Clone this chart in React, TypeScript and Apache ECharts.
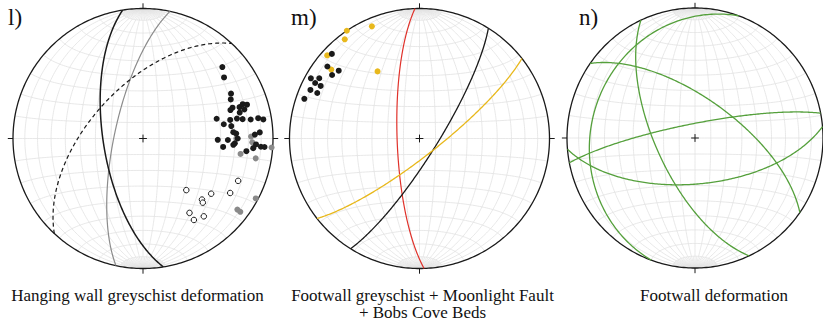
import React, { useEffect, useRef } from "react";
import * as echarts from "echarts";

// ---------- text ----------
const panelLabels = ["l)", "m)", "n)"];
const captionLines = [
  ["Hanging wall greyschist deformation"],
  ["Footwall greyschist + Moonlight Fault", "+ Bobs Cove Beds"],
  ["Footwall deformation"],
];

// ---------- panel l : planes [strike (RHR), dip], poles [trend, plunge] ----------
const lBlackPlane = [171, 65];
const lGreyPlane = [192, 72];
const lDashedPlane = [223, 57];
const lBlackPoles = [
  [48, 19], [53, 23], [63, 25], [66, 27], [71, 28], [72, 30], [72, 23], [71, 20],
  [72, 17], [74, 20], [75, 24], [75, 41], [78, 32], [78, 27], [79, 23], [80, 17],
  [80, 11], [81, 7], [80, 37], [82, 32], [91, 42], [91, 35], [87, 29], [90, 28],
  [93, 30], [94, 31], [96, 38], [88, 15], [87, 11], [93, 14], [94, 10], [94, 7],
  [97, 21], [95, 16], [86, 31],
];
const lGreyPoles = [
  [89, 18], [92, 17], [99, 25], [94, 1], [100, 13], [118, 2], [127, 10], [127, 7], [90, 29],
];
const lOpenPoles = [
  [114, 21], [122, 22], [129, 33], [140, 47], [136, 35], [137, 33], [148, 33], [142, 25], [148, 27],
];

// ---------- panel m ----------
const mRedPlane = [178, 76];
const mBlackPlane = [32, 79];
const mYellowPlane = [52, 79];
const mBlackPoles = [
  [314, 7], [308, 11], [310, 20], [306, 18], [299, 5], [301, 11], [298, 10], [298, 15],
  [294, 9], [294, 15], [289, 7],
];
const mYellowPoles = [[337, 7], [326, 0], [323, 5], [312, 5], [308, 15], [328, 39]];

// ---------- panel n ----------
const nGreenPlanes = [[155, 65], [305, 65], [259, 81], [85, 61], [200, 20]];

// ---------- layout ----------
const R = 130;
const PANELS = [
  { cx: 143, cy: 138.5 },
  { cx: 419.5, cy: 138.5 },
  { cx: 697, cy: 138 },
];
const CAPTION_POS = [
  [{ x: 137.5, y: 295 }],
  [{ x: 422.5, y: 295 }, { x: 422.5, y: 312.5 }],
  [{ x: 714, y: 295 }],
];
const LABEL_POS = [{ x: 8, y: 17.5 }, { x: 291, y: 17.5 }, { x: 579, y: 17.5 }];

const BLACK = "#1a1a1a";
const GRID = "#e2e2e2";
const GREEN = "#55a03c";
const RED = "#e0322b";
const YELLOW = "#e8b81c";
const GREY = "#8a8a8a";
const SERIF = "'Liberation Serif', 'Times New Roman', serif";

// ---------- equal-area (Schmidt) lower-hemisphere projection ----------
const D2R = Math.PI / 180;
function project(x: number, y: number, z: number): number[] {
  const k = 1 / Math.sqrt(1 + Math.max(z, 0));
  return [x * k, y * k];
}
function vec(trend: number, plunge: number): number[] {
  const t = trend * D2R, p = plunge * D2R;
  return [Math.sin(t) * Math.cos(p), Math.cos(t) * Math.cos(p), Math.sin(p)];
}
function greatCircle(strike: number, dip: number, t0 = 0, t1 = 180, step = 1): number[][] {
  const S = vec(strike, 0);
  const Dv = vec(strike + 90, dip);
  const pts: number[][] = [];
  for (let t = t0; t <= t1 + 1e-9; t += step) {
    const c = Math.cos(t * D2R), s = Math.sin(t * D2R);
    pts.push(project(c * S[0] + s * Dv[0], c * S[1] + s * Dv[1], c * S[2] + s * Dv[2]));
  }
  return pts;
}
function smallCircleNS(alpha: number, sign: number): number[][] {
  const a = alpha * D2R;
  const pts: number[][] = [];
  for (let f = 0; f <= 180; f += 2) {
    const ph = f * D2R;
    pts.push(project(Math.sin(a) * Math.cos(ph), sign * Math.cos(a), Math.sin(a) * Math.sin(ph)));
  }
  return pts;
}
function poleXY(trend: number, plunge: number): number[] {
  const v = vec(trend, plunge);
  return project(v[0], v[1], v[2]);
}

function netLines(): number[][][] {
  const out: number[][][] = [];
  for (let d = 10; d <= 80; d += 10) {
    out.push(greatCircle(0, d));
    out.push(greatCircle(180, d));
  }
  out.push(greatCircle(0, 90));
  for (let d = 5; d < 90; d += 10) {
    for (const s of [0, 180]) {
      out.push(greatCircle(s, d, 0, 10, 1));
      out.push(greatCircle(s, d, 170, 180, 1));
    }
  }
  for (let a = 10; a <= 80; a += 10) {
    out.push(smallCircleNS(a, 1));
    out.push(smallCircleNS(a, -1));
  }
  out.push(smallCircleNS(90, 1));
  return out;
}

function primitive(): number[][] {
  const pts: number[][] = [];
  for (let a = 0; a <= 360; a += 1) pts.push([Math.sin(a * D2R), Math.cos(a * D2R)]);
  return pts;
}

function ticksAndCross(): number[][][] {
  const o = 1.0, e = 1.04, c = 0.03;
  return [
    [[0, o], [0, e]], [[0, -o], [0, -e]], [[o, 0], [e, 0]], [[-o, 0], [-e, 0]],
    [[-c, 0], [c, 0]], [[0, -c], [0, c]],
  ];
}

function buildOption() {
  const grid = PANELS.map((p) => ({
    left: p.cx - R, top: p.cy - R, width: 2 * R, height: 2 * R,
  }));
  const xAxis = PANELS.map((_, i) => ({
    type: "value", gridIndex: i, min: -1, max: 1, show: false,
  }));
  const yAxis = PANELS.map((_, i) => ({
    type: "value", gridIndex: i, min: -1, max: 1, show: false,
  }));

  const series: any[] = [];
  const net = netLines();
  const linesSeries = (i: number, polys: number[][][], color: string, width: number, type: any = "solid", z = 3) => ({
    type: "lines",
    coordinateSystem: "cartesian2d",
    xAxisIndex: i,
    yAxisIndex: i,
    polyline: true,
    silent: true,
    clip: false,
    z,
    lineStyle: { color, width, type, opacity: 1 },
    data: polys.map((coords) => ({ coords })),
  });
  const scatter = (i: number, poles: number[][], color: string, border: string | null, size: number, z = 5) => ({
    type: "scatter",
    xAxisIndex: i,
    yAxisIndex: i,
    silent: true,
    clip: false,
    z,
    symbol: "circle",
    symbolSize: size,
    itemStyle: border
      ? { color, borderColor: border, borderWidth: 1, opacity: 1 }
      : { color, opacity: 1 },
    data: poles.map(([t, p]) => poleXY(t, p)),
  });

  PANELS.forEach((_, i) => {
    series.push(linesSeries(i, net, GRID, 0.8, "solid", 1));
    series.push(linesSeries(i, [primitive()], BLACK, 1.3, "solid", 2));
    series.push(linesSeries(i, ticksAndCross(), BLACK, 1, "solid", 2));
  });

  // panel l
  series.push(linesSeries(0, [greatCircle(lGreyPlane[0], lGreyPlane[1])], "#8c8c8c", 1.2));
  series.push(linesSeries(0, [greatCircle(lBlackPlane[0], lBlackPlane[1])], BLACK, 1.5));
  series.push(linesSeries(0, [greatCircle(lDashedPlane[0], lDashedPlane[1])], BLACK, 1.2, [4, 3]));
  series.push(scatter(0, lGreyPoles, GREY, null, 6, 5));
  series.push(scatter(0, lBlackPoles, BLACK, null, 6, 6));
  series.push(scatter(0, lOpenPoles, "#ffffff", BLACK, 5.5, 6));

  // panel m
  series.push(linesSeries(1, [greatCircle(mRedPlane[0], mRedPlane[1])], RED, 1.2));
  series.push(linesSeries(1, [greatCircle(mBlackPlane[0], mBlackPlane[1])], BLACK, 1.3));
  series.push(linesSeries(1, [greatCircle(mYellowPlane[0], mYellowPlane[1])], YELLOW, 1.3));
  series.push(scatter(1, mYellowPoles, YELLOW, null, 6, 5));
  series.push(scatter(1, mBlackPoles, BLACK, null, 6, 6));

  // panel n
  series.push(linesSeries(2, nGreenPlanes.map(([s, d]) => greatCircle(s, d)), GREEN, 1.3));

  const graphics: any[] = [];
  panelLabels.forEach((t, i) => {
    graphics.push({
      type: "text", x: LABEL_POS[i].x, y: LABEL_POS[i].y, silent: true,
      style: { text: t, font: `23px ${SERIF}`, fill: "#111", align: "left", verticalAlign: "middle",
        textAlign: "left", textVerticalAlign: "middle" },
    });
  });
  captionLines.forEach((lines, i) => {
    lines.forEach((t, j) => {
      graphics.push({
        type: "text", x: CAPTION_POS[i][j].x, y: CAPTION_POS[i][j].y, silent: true,
        style: { text: t, font: `17px ${SERIF}`, fill: "#111", align: "center", verticalAlign: "middle",
          textAlign: "center", textVerticalAlign: "middle" },
      });
    });
  });

  return {
    animation: false,
    backgroundColor: "#ffffff",
    grid, xAxis, yAxis, series,
    graphic: graphics,
  };
}

export default function App() {
  const ref = useRef<HTMLDivElement>(null);
  useEffect(() => {
    if (!ref.current) return;
    const chart = echarts.init(ref.current, undefined, { renderer: "svg" });
    chart.setOption(buildOption() as any);
    return () => chart.dispose();
  }, []);
  return (
    <div
      ref={ref}
      style={{ position: "fixed", left: 0, top: 0, width: 823, height: 323, background: "#fff" }}
    />
  );
}
